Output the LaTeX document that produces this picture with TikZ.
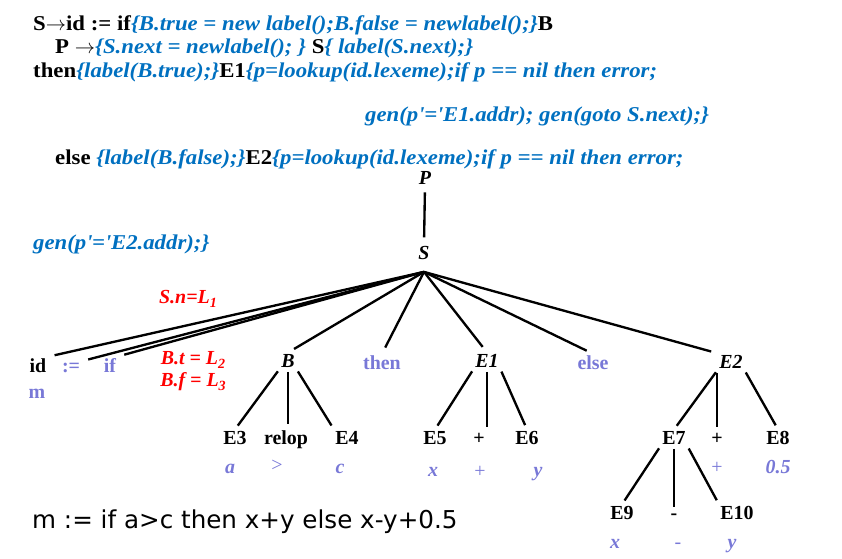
\documentclass[tikz,border=0pt]{standalone}
\usepackage{fontspec}
\setmainfont{Liberation Serif}
\newfontfamily\codefont{Liberation Serif}[FakeStretch=1.08]
\newfontfamily\plainsans{DejaVu Sans}
\usetikzlibrary{positioning}

\definecolor{codeblue}{RGB}{0,112,192}
\definecolor{leaf}{RGB}{120,120,215}
\definecolor{annred}{RGB}{255,0,0}

\newcommand{\lowidx}[1]{\raisebox{-0.45ex}{\fontsize{12}{14}\selectfont #1}}
\newcommand{\act}[1]{\textcolor{codeblue}{\itshape #1}}

\begin{document}
\begin{tikzpicture}[
            x=0.03cm, y=-0.03cm,
            nt/.style={anchor=base, font=\fontsize{17}{20}\selectfont\bfseries\itshape, inner sep=1pt},
            tm/.style={anchor=base, font=\fontsize{17}{20}\selectfont\bfseries, inner sep=1pt},
            lf/.style={anchor=base, font=\fontsize{17}{20}\selectfont\bfseries\itshape, text=leaf, inner sep=1pt},
            lfup/.style={anchor=base, font=\fontsize{17}{20}\selectfont, text=leaf, inner sep=1pt},
            kw/.style={anchor=base, font=\fontsize{17}{20}\selectfont\bfseries, text=leaf, inner sep=1pt},
            ann/.style={anchor=base, font=\fontsize{17}{20}\selectfont\bfseries\itshape, text=annred, inner sep=0pt},
            codeline/.style={anchor=base west, inner sep=0pt, font=\codefont\fontsize{18}{20}\selectfont\bfseries},
            fan/.style={line width=2pt, shorten >=6pt},
            branch/.style={line width=2pt, shorten <=3pt, shorten >=4pt},
        ]
            \useasboundingbox (0,0) rectangle (842,558);

            % Translation scheme
            \node[codeline] (rule1) at (33,30) {S$\rightarrow$id := if\act{\{B.true = new label();B.false = newlabel();\}}B};
            \node[codeline] (rule2) at (55,53) {P $\rightarrow$\act{\{S.next = newlabel(); \}} S\act{\{ label(S.next);\}}};
            \node[codeline] (rule3) at (33,77) {then\act{\{label(B.true);\}}E1\act{\{p=lookup(id.lexeme);if p == nil then error;}};
            \node[codeline] (rule4) at (365,121) {\act{gen(p\textquotesingle=\textquotesingle E1.addr); gen(goto S.next);\}}};
            \node[codeline] (rule5) at (55,164) {else \act{\{label(B.false);\}}E2\act{\{p=lookup(id.lexeme);if p == nil then error;}};
            \node[codeline] (rule6) at (33,249) {\act{gen(p\textquotesingle=\textquotesingle E2.addr);\}}};

            % Parse tree
            \node[nt] (P) at (425,184) {P};
            \node[nt] (S) at (424,259) {S};
            \coordinate[below=11pt of S.base] (root);

            \node[tm] (id) at (38,372) {id};
            \node[kw] (assign) at (71,372) {:=};
            \node[kw] (if) at (110,372) {if};
            \node[nt] (B) at (288,367) {B};
            \node[kw] (then) at (382,369) {then};
            \node[nt] (E1) at (487,367) {E1};
            \node[kw] (else) at (593,369) {else};
            \node[nt] (E2) at (731,368) {E2};
            \node[kw] (m) at (37,398) {m};

            \node[tm] (E3) at (235,444) {E3};
            \node[tm] (relop) at (286,444) {relop};
            \node[tm] (E4) at (347,444) {E4};
            \node[lf] (a) at (230,473) {a};
            \node[lfup] (gt) at (277,471) {>};
            \node[lf] (c) at (340,473) {c};

            \node[tm] (E5) at (435,444) {E5};
            \node[tm] (plus1) at (479,444) {+};
            \node[tm] (E6) at (527,444) {E6};
            \node[lf] (x1) at (433,476) {x};
            \node[lfup] (plus2) at (480,477) {+};
            \node[lf] (y1) at (538,476) {y};

            \node[tm] (E7) at (674,444) {E7};
            \node[tm] (plus3) at (717,444) {+};
            \node[tm] (E8) at (778,444) {E8};
            \node[lfup] (plus4) at (717,473) {+};
            \node[lf] (half) at (778,473) {0.5};

            \node[tm] (E9) at (622,519) {E9};
            \node[tm] (minus1) at (674,519) {-};
            \node[tm] (E10) at (737,519) {E10};
            \node[lf] (x2) at (615,548) {x};
            \node[lfup] (minus2) at (678,548) {-};
            \node[lf] (y2) at (732,548) {y};

            % Attribute values
            \node[ann] (sn) at (188,303) {S.n=L\lowidx{1}};
            \node[ann] (bt) at (193,364) {B.t = L\lowidx{2}};
            \node[ann] (bf) at (193,386) {B.f = L\lowidx{3}};

            % Source statement
            \node[anchor=west, inner sep=0pt, font=\plainsans\fontsize{21}{25}\selectfont] (src) at (32,522) {m := if a>c then x+y else x-y+0.5};

            % Edges
            \draw[line width=2pt, shorten <=6pt, shorten >=6pt] (P.south) -- (S.north);
            \foreach \child/\side in {id/north east, assign/north east, if/north east, B/north, then/north, E1/north, else/north, E2/north west}
                \draw[fan] (root) -- (\child.\side);

            \draw[branch] (B.south west) -- (E3.north);
            \draw[branch] (B.south) -- (B.south |- relop.north);
            \draw[branch] (B.south east) -- (E4.north west);

            \draw[branch] (E1.south west) -- (E5.north);
            \draw[branch] (E1.south) -- (E1.south |- plus1.north);
            \draw[branch] (E1.south east) -- (E6.north);

            \draw[branch] (E2.south west) -- (E7.north);
            \draw[branch] (plus3.north |- E2.south) -- (plus3.north);
            \draw[branch] (E2.south east) -- (E8.north);

            \draw[branch] (E7.south west) -- (E9.north);
            \draw[branch] (E7.south) -- (E7.south |- minus1.north);
            \draw[branch] (E7.south east) -- (E10.north west);
        \end{tikzpicture}
\end{document}
